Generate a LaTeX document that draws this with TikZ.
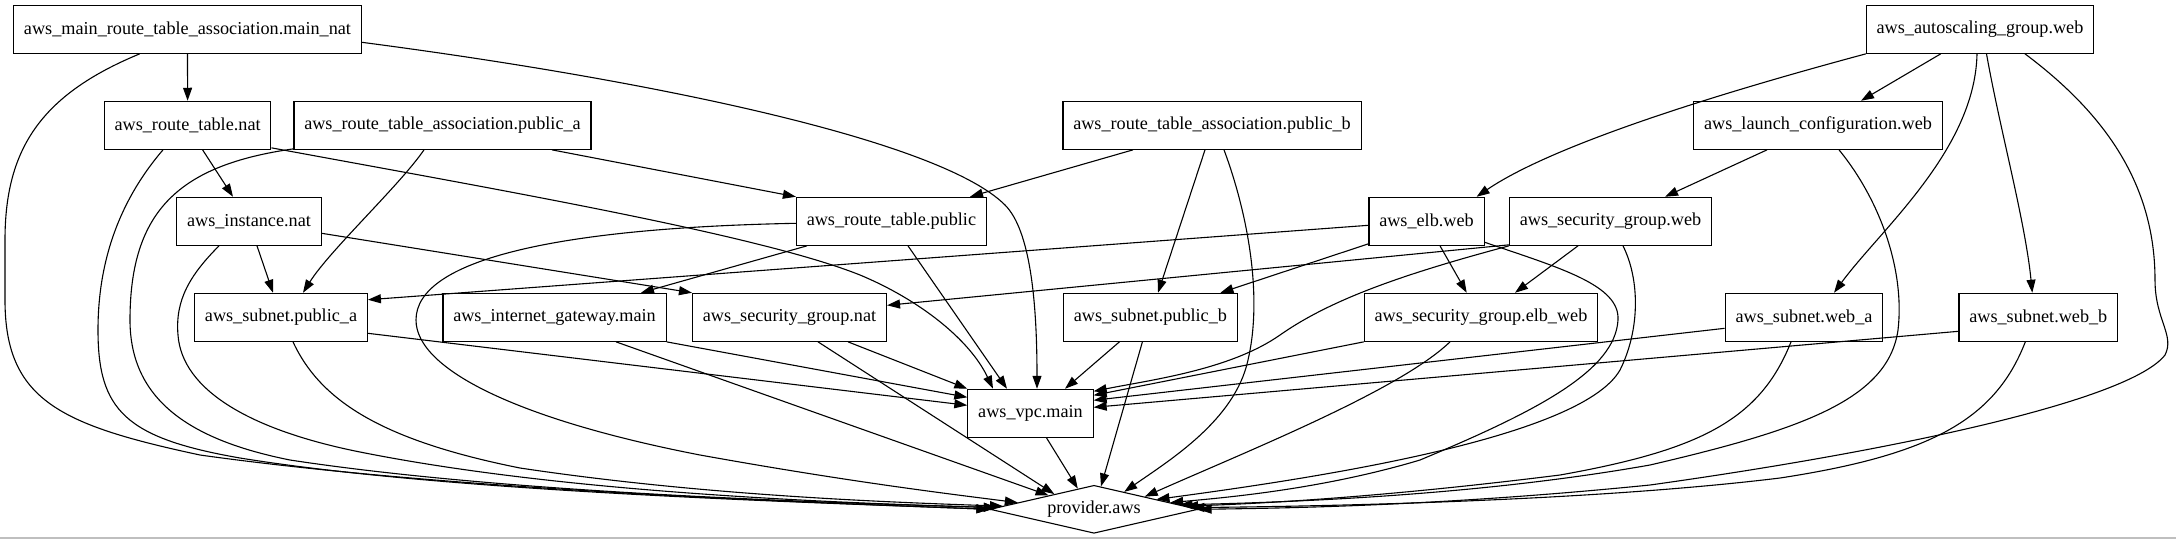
\documentclass[tikz,border=0pt]{standalone}
\usepackage{fontspec}
\setmainfont{Liberation Serif}
\usetikzlibrary{arrows.meta,shapes.geometric,calc}
\begin{document}
\begin{tikzpicture}[x=1pt,y=-1pt,
  box/.style={draw,rectangle,line width=1.1pt,minimum height=48pt,minimum width=72pt,inner xsep=10.3pt,inner ysep=0pt,font=\fontsize{18.2pt}{22pt}\selectfont},
  prv/.style={draw,diamond,line width=1.1pt,minimum width=208pt,minimum height=48pt,aspect=4.33,inner sep=0pt,font=\fontsize{18.2pt}{22pt}\selectfont},
  edge/.style={draw,line width=1.1pt,-{Triangle[length=13pt,width=9pt]}}]
\useasboundingbox (0,0) rectangle (2176,539);
% rank 0
\node[box] (mainnat) at (187.5,29.3) {aws\_main\_route\_table\_association.main\_nat};
\node[box] (asg) at (1980,29.3) {aws\_autoscaling\_group.web};
% rank 1
\node[box] (rtnat) at (187.6,125.3) {aws\_route\_table.nat};
\node[box] (rtapa) at (442.5,125.3) {aws\_route\_table\_association.public\_a};
\node[box] (rtapb) at (1212,125.3) {aws\_route\_table\_association.public\_b};
\node[box] (lc) at (1818,125.3) {aws\_launch\_configuration.web};
% rank 2
\node[box] (inst) at (249,221.3) {aws\_instance.nat};
\node[box] (rtpub) at (891.4,221.3) {aws\_route\_table.public};
\node[box] (elb) at (1426.5,221.3) {aws\_elb.web};
\node[box] (sgweb) at (1610.5,221.3) {aws\_security\_group.web};
% rank 3
\node[box] (subpa) at (281,317.3) {aws\_subnet.public\_a};
\node[box] (igw) at (554.5,317.3) {aws\_internet\_gateway.main};
\node[box] (sgnat) at (789.5,317.3) {aws\_security\_group.nat};
\node[box] (subpb) at (1150.4,317.3) {aws\_subnet.public\_b};
\node[box] (sgelb) at (1481,317.3) {aws\_security\_group.elb\_web};
\node[box] (weba) at (1804,317.3) {aws\_subnet.web\_a};
\node[box] (webb) at (2038.3,317.3) {aws\_subnet.web\_b};
% rank 4, 5
\node[box] (vpc) at (1030.5,413.3) {aws\_vpc.main};
\node[prv] (prov) at (1094,509.3) {provider.aws};

% main_nat
\draw[edge] (mainnat.south) -- (rtnat.north);
\draw[edge] ($(mainnat.south)+(-47.8,0)$) .. controls (40,95) and (5,150) .. (5,240) -- (5,300) .. controls (5,400) and (60,425) .. (200,455) .. controls (450,490) and (800,502) .. (prov.180);
\draw[edge] ($(mainnat.east)+(0,13)$) .. controls (650,80) and (940,140) .. (1005,205) .. controls (1030,230) and (1037,300) .. ($(vpc.north)+(6.5,0)$);
% route_table.nat
\draw[edge] ($(rtnat.south)+(15,0)$) -- ($(inst.north)+(-16,0)$);
\draw[edge] ($(rtnat.south)+(-24.6,0)$) .. controls (120,200) and (98,260) .. (98,330) .. controls (98,410) and (125,438) .. (240,458) .. controls (450,492) and (800,502) .. (prov.180);
\draw[edge] ($(rtnat.south east)+(0,-2)$) .. controls (500,190) and (760,235) .. (860,275) .. controls (920,300) and (970,340) .. ($(vpc.north)+(-37.5,0)$);
% rta.public_a
\draw[edge] ($(rtapa.south)+(-18.5,0)$) .. controls (400,185) and (330,250) .. ($(subpa.north)+(22,0)$);
\draw[edge] ($(rtapa.south)+(109.5,0)$) -- (rtpub.north west);
\draw[edge] ($(rtapa.south west)+(0,-1)$) .. controls (180,165) and (130,210) .. (130,320) .. controls (130,400) and (190,440) .. (290,460) .. controls (500,492) and (800,502) .. (prov.179);
% instance.nat
\draw[edge] ($(inst.south)+(8,0)$) -- ($(subpa.north)+(-8,0)$);
\draw[edge] ($(inst.east)+(0,12)$) -- (sgnat.north west);
\draw[edge] ($(inst.south)+(-30,0)$) .. controls (190,275) and (175,300) .. (178,335) .. controls (182,390) and (250,430) .. (360,452) .. controls (550,490) and (800,502) .. (prov.179);
% route_table.public
\draw[edge] ($(rtpub.south west)+(11,0)$) -- ($(igw.north)+(86.5,0)$);
\draw[edge] ($(rtpub.south)+(16.6,0)$) -- ($(vpc.north)+(-23.5,0)$);
\draw[edge] ($(rtpub.west)+(0,2)$) .. controls (555,228) and (416,260) .. (416,320) .. controls (416,370) and (520,420) .. (700,455) .. controls (850,482) and (950,494) .. (prov.175);
% rta.public_b
\draw[edge] ($(rtapb.south)+(-79,0)$) -- ($(rtpub.north)+(78.6,0)$);
\draw[edge] ($(rtapb.south)+(-7,0)$) -- ($(subpb.north)+(7.6,0)$);
\draw[edge] ($(rtapb.south)+(12,0)$) .. controls (1250,220) and (1262,300) .. (1248,360) .. controls (1235,420) and (1170,460) .. (prov.30);
% elb
\draw[edge] ($(elb.west)+(0,4)$) -- ($(subpa.north east)+(0,7)$);
\draw[edge] ($(elb.south west)+(0,-2)$) -- ($(subpb.north)+(70,0)$);
\draw[edge] ($(elb.south)+(13.5,0)$) -- ($(sgelb.north)+(-14.3,0)$);
\draw[edge] ($(elb.south east)+(0,-3.6)$) .. controls (1560,268) and (1620,285) .. (1618,320) .. controls (1615,370) and (1540,410) .. (1420,460) .. controls (1320,490) and (1220,498) .. (prov.5);
% security_group.web
\draw[edge] ($(sgweb.south west)+(0,-1)$) -- ($(sgnat.east)+(0,-12)$);
\draw[edge] ($(sgweb.south)+(-32.5,0)$) -- ($(sgelb.north)+(34,0)$);
\draw[edge] (sgweb.south west) .. controls (1400,275) and (1330,300) .. (1280,335) .. controls (1230,370) and (1150,380) .. ($(vpc.east)+(0,-22)$);
\draw[edge] ($(sgweb.south)+(12.5,0)$) .. controls (1640,280) and (1640,330) .. (1620,370) .. controls (1580,440) and (1300,480) .. (prov.9);
% launch_configuration
\draw[edge] ($(lc.south)+(-51,0)$) -- ($(sgweb.north)+(54.5,0)$);
\draw[edge] ($(lc.south)+(21,0)$) .. controls (1880,200) and (1905,270) .. (1898,330) .. controls (1888,400) and (1800,430) .. (1650,465) .. controls (1480,495) and (1300,502) .. (prov.3);
% autoscaling_group
\draw[edge] ($(asg.south)+(-39.3,0)$) -- ($(lc.north)+(43,0)$);
\draw[edge] (asg.south west) .. controls (1750,85) and (1560,140) .. ($(elb.north east)+(-8,0)$);
\draw[edge] ($(asg.south)+(-3,0)$) .. controls (1975,150) and (1880,230) .. ($(weba.north)+(30,0)$);
\draw[edge] ($(asg.south)+(6.5,0)$) .. controls (2000,130) and (2025,220) .. ($(webb.north)+(-6,0)$);
\draw[edge] ($(asg.south)+(45,0)$) .. controls (2100,110) and (2155,180) .. (2155,280) .. controls (2155,320) and (2175,335) .. (2165,355) .. controls (2130,400) and (1900,450) .. (1650,485) .. controls (1450,505) and (1300,508) .. (prov.0);
% rank 3 sources
\draw[edge] ($(subpa.east)+(0,16)$) -- ($(vpc.west)+(0,-8)$);
\draw[edge] ($(subpa.south)+(12,0)$) .. controls (320,400) and (380,440) .. (520,468) .. controls (700,495) and (880,502) .. (prov.178);
\draw[edge] (igw.south east) -- ($(vpc.west)+(0,-16)$);
\draw[edge] ($(igw.south)+(61.5,0)$) -- (prov.163);
\draw[edge] ($(sgnat.south)+(58.5,0)$) -- (vpc.north west);
\draw[edge] ($(sgnat.south)+(28.5,0)$) -- (prov.159);
\draw[edge] ($(subpb.south)+(-31,0)$) -- ($(vpc.north)+(34.5,0)$);
\draw[edge] ($(subpb.south)+(-8,0)$) -- (prov.73);
\draw[edge] (sgelb.south west) -- ($(vpc.east)+(0,-18)$);
\draw[edge] ($(sgelb.south)+(-31,0)$) .. controls (1400,390) and (1250,450) .. (prov.14);
\draw[edge] ($(weba.west)+(0,11)$) -- ($(vpc.east)+(0,-13)$);
\draw[edge] ($(weba.south)+(-13,0)$) .. controls (1760,420) and (1700,450) .. (1560,475) .. controls (1400,495) and (1280,503) .. (prov.2);
\draw[edge] ($(webb.west)+(0,14)$) -- ($(vpc.east)+(0,-6)$);
\draw[edge] ($(webb.south)+(-13,0)$) .. controls (1995,420) and (1930,455) .. (1780,478) .. controls (1600,500) and (1350,506) .. (prov.1);
% vpc
\draw[edge] ($(vpc.south)+(16,0)$) -- (prov.128);
% bottom rule of the image
\draw[gray!50,line width=1.3pt] (0,538) -- (2176,538);
\end{tikzpicture}
\end{document}
